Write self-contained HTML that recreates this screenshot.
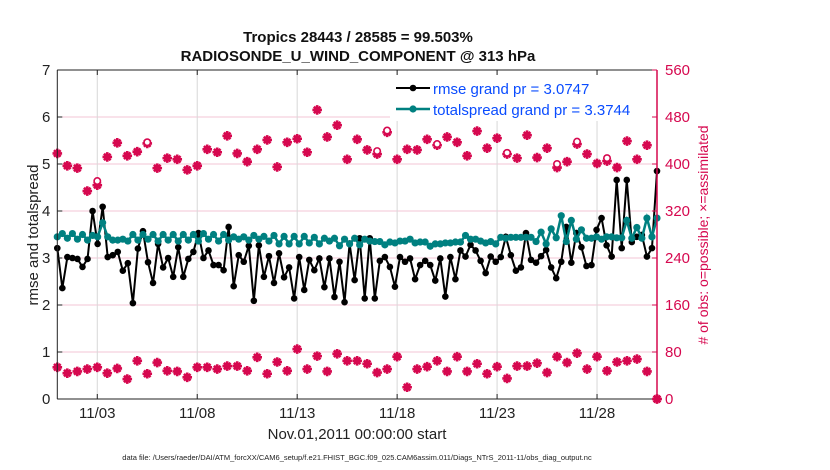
<!DOCTYPE html>
<html><head><meta charset="utf-8"><style>
body{margin:0;background:#fff;}
svg{display:block;font-family:"Liberation Sans",sans-serif;}
</style></head><body>
<svg id="chart" width="830" height="470" xmlns="http://www.w3.org/2000/svg"></svg>
<script>
const xTickDays=[2,7,12,17,22,27];
const xTickLabels=["11/03","11/08","11/13","11/18","11/23","11/28"];
const leftTicks=[0,1,2,3,4,5,6,7];
const rightTicks=[0,80,160,240,320,400,480,560];
const rmse=[3.21,2.36,3.02,3.0,2.98,2.81,2.98,4.0,3.3,4.09,3.02,3.06,3.13,2.73,2.89,2.04,3.2,3.57,2.91,2.47,3.3,2.8,3.0,2.6,3.23,2.6,2.98,3.13,3.53,3.0,3.16,2.85,
2.85,2.74,3.66,2.4,3.06,2.92,3.26,2.09,3.27,2.6,3.04,2.47,3.1,2.59,2.8,2.14,3.02,2.32,2.96,2.74,2.99,2.38,2.99,2.17,2.92,2.06,3.31,2.53,3.42,2.14,
3.42,2.14,2.94,3.02,2.81,2.39,3.02,2.92,2.99,2.55,2.85,2.94,2.85,2.52,2.99,2.18,3.02,2.55,3.16,3.03,3.28,3.16,2.94,2.68,3.03,2.92,3.02,3.45,3.06,2.73,
2.8,3.53,2.96,2.9,3.04,3.17,2.8,2.57,2.92,3.66,2.9,3.53,3.23,2.83,2.85,3.6,3.85,3.27,3.03,4.66,3.21,4.66,3.34,3.45,3.49,3.03,3.21,4.85];
const spread=[3.45,3.52,3.42,3.52,3.40,3.50,3.38,3.48,3.45,3.75,
3.45,3.38,3.38,3.40,3.36,3.50,3.38,3.50,3.40,3.50,3.36,3.50,3.38,3.50,3.36,3.50,3.38,3.50,3.36,3.52,3.40,3.50,
3.36,3.50,3.38,3.45,3.40,3.45,3.38,3.48,3.40,3.46,3.36,3.48,3.30,3.46,3.30,3.46,3.30,3.46,3.32,3.44,3.30,3.42,3.36,3.42,3.26,3.40,3.30,3.42,3.28,3.40,
3.36,3.35,3.35,3.28,3.34,3.32,3.36,3.36,3.40,3.32,3.34,3.34,3.25,3.30,3.30,3.32,3.32,3.34,3.34,3.48,3.40,3.40,3.36,3.32,3.35,3.30,3.44,3.42,3.44,3.44,
3.44,3.44,3.44,3.35,3.55,3.30,3.62,3.43,3.90,3.35,3.80,3.40,3.60,3.42,3.42,3.45,3.40,3.45,3.45,3.43,3.43,3.80,3.42,3.65,3.42,3.85,3.45,3.85];
const upperAssim=[418,397,393,354,364,412,436,414,421,435,393,410,408,390,397,425,420,448,418,404,425,441,395,437,443,420,492,446,466,408,442,
424,417,454,408,425,424,442,432,446,437,414,456,427,444,417,410,449,411,427,394,404,434,417,401,405,394,439,408,432,0];
const upperPoss=[418,397,393,354,371,412,436,414,421,437,393,410,408,390,397,425,420,448,418,404,425,441,395,437,443,420,492,446,466,408,442,
424,422,457,408,425,424,442,434,446,437,414,456,427,444,419,410,449,411,427,400,404,438,417,401,410,394,439,408,432,0];
const lowerAssim=[54,44,47,51,54,44,52,34,65,43,62,48,47,37,54,54,51,56,56,48,71,43,63,48,85,51,73,47,77,65,
65,60,45,51,72,20,51,55,65,47,72,47,60,43,55,35,56,56,61,45,72,62,78,51,72,48,63,65,68,47,0];
const lowerPoss=[54,44,47,51,54,44,52,34,65,43,62,48,47,37,54,54,51,56,56,48,71,43,63,48,85,51,73,47,77,65,
65,60,45,51,72,20,51,55,65,47,72,47,60,43,55,35,56,56,61,45,72,62,78,51,72,48,63,65,68,47,0];

const L=57.3,R=657,T=70,B=399,DAYS=30;
const NS="http://www.w3.org/2000/svg";
const svg=document.getElementById('chart');
const xS=d=>L+d/DAYS*(R-L);
const yS=v=>B-v/7*(B-T);
const yR=v=>B-v/560*(B-T);
function el(tag,attrs,parent){const e=document.createElementNS(NS,tag);for(const k in attrs)e.setAttribute(k,attrs[k]);(parent||svg).appendChild(e);return e;}
const RED="#d6084f",TEAL="#008080";

const grid=el('g',{});


leftTicks.forEach(v=>{const g=el('line',{x1:L,x2:R,y1:yS(v),y2:yS(v),stroke:'#f3c6d6','stroke-width':1},grid);

});
xTickDays.forEach(d=>{const g=el('line',{x1:xS(d),x2:xS(d),y1:T,y2:B,stroke:'#d8d8d8','stroke-width':1},grid);

});

function star(x,y,g){el('path',{d:`M${x-4.8},${y}H${x+4.8}M${x},${y-4.8}V${y+4.8}M${x-3.3},${y-3.3}L${x+3.3},${y+3.3}M${x-3.3},${y+3.3}L${x+3.3},${y-3.3}`,stroke:RED,'stroke-width':2.6,fill:'none'},g);}
function drawObs(poss,assim,name){
  const g=el('g',{});
  
  
  const n=poss.length;
  for(let i=0;i<n;i++){const d=i*DAYS/(n-1);
    star(xS(d),yR(assim[i]),g);
    if(poss[i]!==assim[i]){
      el('circle',{cx:xS(d),cy:yR(poss[i]),r:3.2,fill:'#fff',stroke:RED,'stroke-width':1.6},g);}
  }
}
drawObs(upperPoss,upperAssim,'obs-count-upper');
drawObs(lowerPoss,lowerAssim,'obs-count-lower');

function drawLine(vals,color,name,r,w){
  const g=el('g',{});
  
  
  const n=vals.length;
  const pts=vals.map((v,i)=>[xS(i*DAYS/(n-1)),yS(v)]);
  el('polyline',{points:pts.map(p=>p.join(',')).join(' '),fill:'none',stroke:color,'stroke-width':w},g);
  pts.forEach(p=>el('circle',{cx:p[0],cy:p[1],r:r,fill:color},g));
}
drawLine(rmse,'#000','rmse-series',3.3,2);
drawLine(spread,TEAL,'totalspread-series',3.6,2.5);

const ax=el('g',{});


el('line',{x1:L,x2:L,y1:T,y2:B,stroke:'#222','stroke-width':1},ax);
el('line',{x1:L,x2:R,y1:B,y2:B,stroke:'#222','stroke-width':1},ax);
el('line',{x1:L,x2:R,y1:T,y2:T,stroke:'#222','stroke-width':1},ax);
el('line',{x1:R,x2:R,y1:T,y2:B,stroke:RED,'stroke-width':1.5},ax);
leftTicks.forEach(v=>{el('line',{x1:L,x2:L+5,y1:yS(v),y2:yS(v),stroke:'#222'},ax);
  const t=el('text',{x:L-7,y:yS(v)+5,'text-anchor':'end','font-size':15,fill:'#222'},ax);t.textContent=v;
  
  });
rightTicks.forEach(v=>{el('line',{x1:R-5,x2:R,y1:yR(v),y2:yR(v),stroke:RED},ax);
  const t=el('text',{x:R+8,y:yR(v)+5,'font-size':15,fill:RED},ax);t.textContent=v;
  
  });
xTickDays.forEach((d,i)=>{el('line',{x1:xS(d),x2:xS(d),y1:B,y2:B-5,stroke:'#222'},ax);
  el('line',{x1:xS(d),x2:xS(d),y1:T,y2:T+5,stroke:'#222'},ax);
  const t=el('text',{x:xS(d),y:B+19,'text-anchor':'middle','font-size':15,fill:'#222'},ax);t.textContent=xTickLabels[i];
  
  });
</script>
<svg width="830" height="470" style="position:absolute;left:0;top:0" xmlns="http://www.w3.org/2000/svg" font-family="Liberation Sans, sans-serif">
<text x="358" y="42" text-anchor="middle" font-size="15" font-weight="bold" fill="#111">Tropics 28443 / 28585 = 99.503%</text>
<text x="358" y="61" text-anchor="middle" font-size="15" font-weight="bold" fill="#111">RADIOSONDE_U_WIND_COMPONENT @ 313 hPa</text>
<text transform="translate(38,235) rotate(-90)" text-anchor="middle" font-size="15" fill="#222">rmse and totalspread</text>
<text transform="translate(708,235) rotate(-90)" text-anchor="middle" font-size="14" fill="#d6084f"># of obs: o=possible; ×=assimilated</text>
<text x="357" y="439" text-anchor="middle" font-size="15" fill="#222">Nov.01,2011 00:00:00 start</text>
<text x="357" y="460" text-anchor="middle" font-size="7.5" fill="#222">data file: /Users/raeder/DAI/ATM_forcXX/CAM6_setup/f.e21.FHIST_BGC.f09_025.CAM6assim.011/Diags_NTrS_2011-11/obs_diag_output.nc</text>
<g>
<rect x="390" y="75" width="262" height="46" fill="#fff" stroke="none"/>
<g>
<line x1="396" y1="88" x2="430" y2="88" stroke="#000" stroke-width="2"/><circle cx="413" cy="88" r="3.3" fill="#000"/>
<text x="433" y="94" font-size="15" fill="#0a4cff">rmse grand pr = 3.0747</text></g>
<g>
<line x1="396" y1="109" x2="430" y2="109" stroke="#008080" stroke-width="2.5"/><circle cx="413" cy="109" r="3.6" fill="#008080"/>
<text x="433" y="115" font-size="15" fill="#0a4cff">totalspread grand pr = 3.3744</text></g>
</g>
</svg>
</body></html>
